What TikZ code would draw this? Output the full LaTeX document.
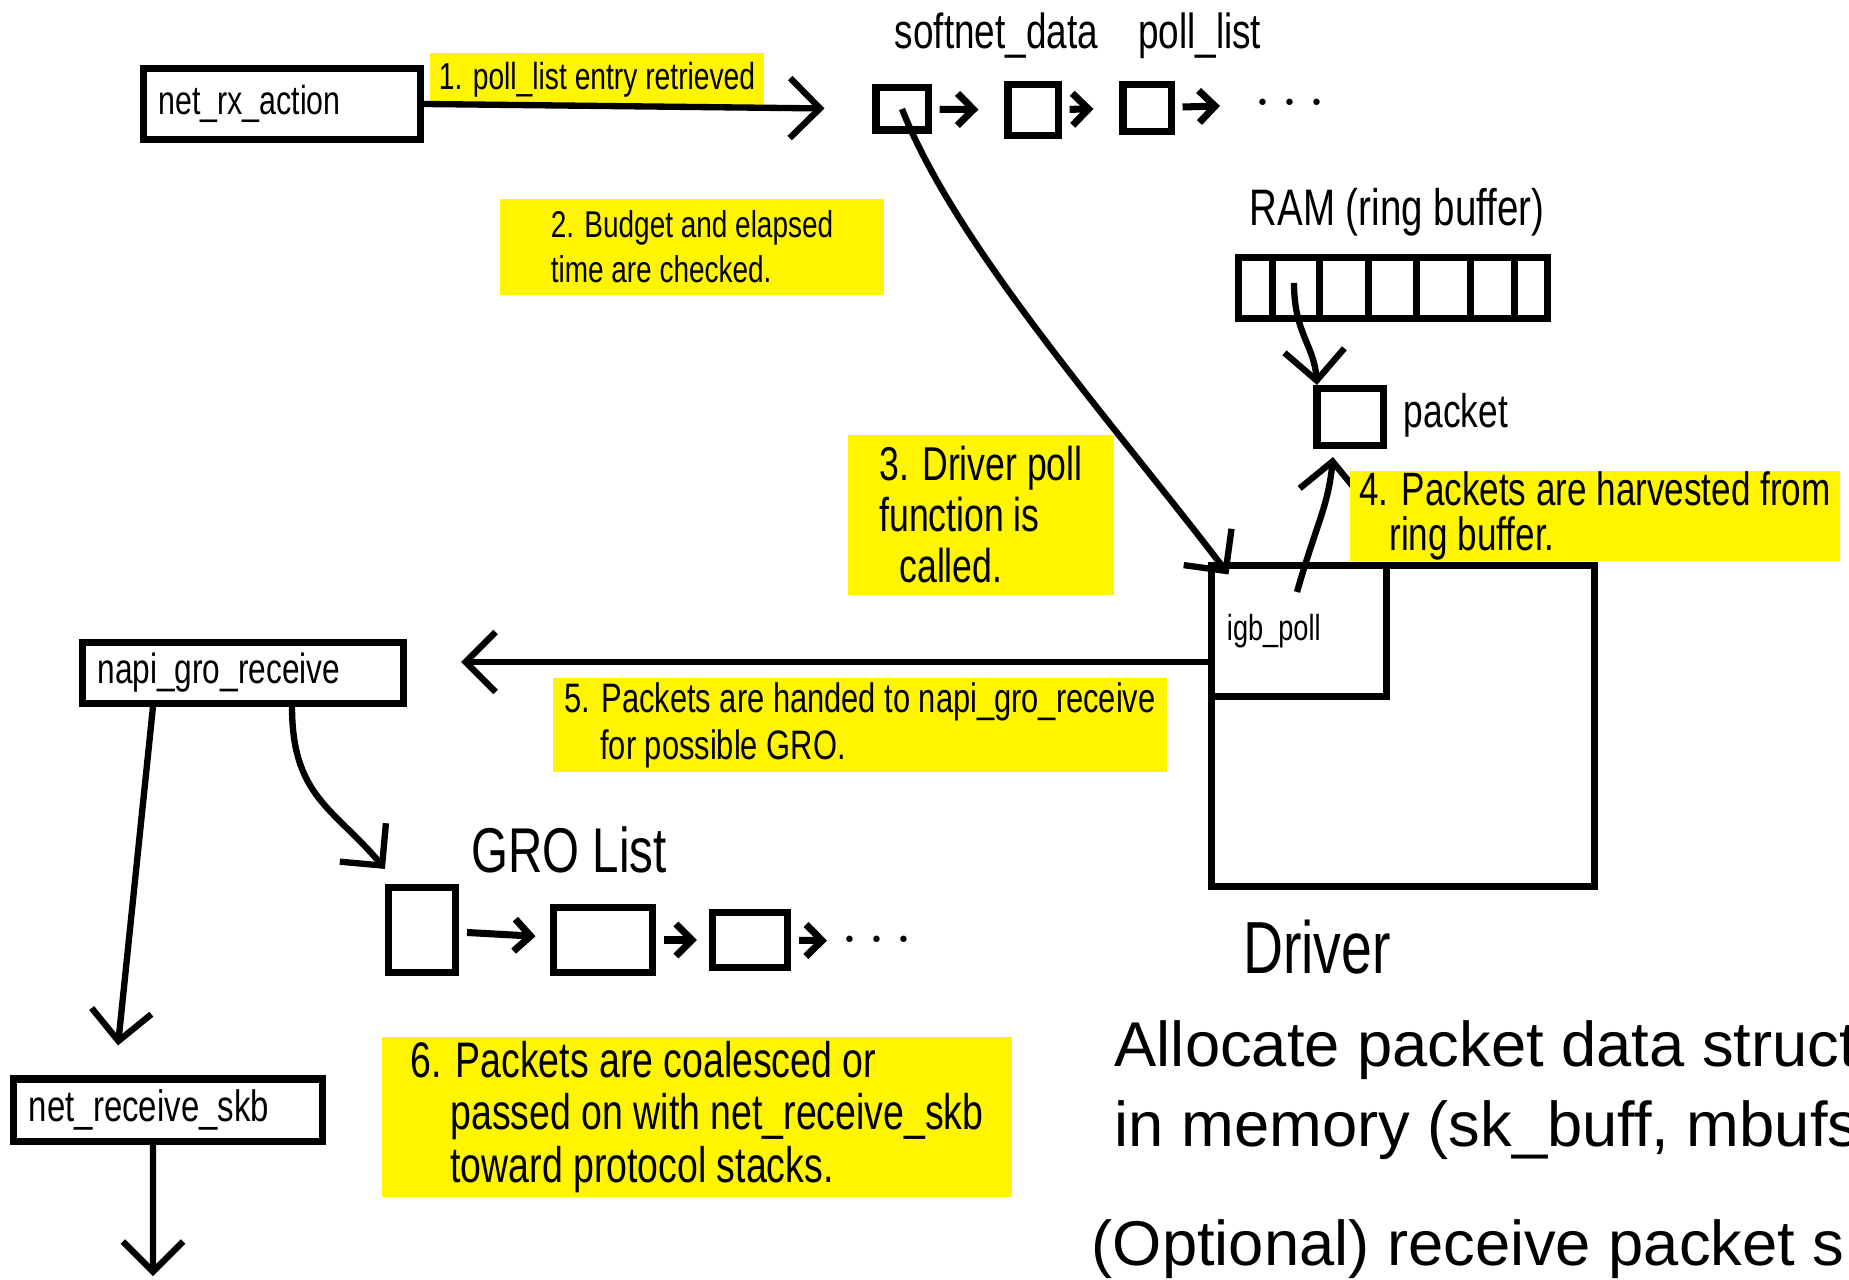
\documentclass[tikz,border=0pt]{standalone}
\usepackage{fontspec}
\usepackage{tikz}
\usetikzlibrary{arrows.meta}
\newfontfamily\hand[FakeStretch=0.75]{Liberation Sans}
\newfontfamily\typed{Liberation Sans}
\definecolor{marker}{RGB}{255,245,0}

\begin{document}
\begin{tikzpicture}[x=0.01cm,y=-0.01cm]
		\tikzset{fnbox/.style={draw,line width=2pt,inner xsep=0.15cm,inner ysep=0pt,align=left,font=\hand\fontsize{12}{14}\selectfont},
			listbox/.style={draw,line width=2pt,inner sep=0pt},
			marked/.style={fill=marker,inner sep=0pt,align=left},
			handlabel/.style={inner sep=0pt,font=\hand\fontsize{#1}{#1}\selectfont},
			dotsnode/.style={inner sep=0pt,anchor=west,font=\fontsize{17}{20}\selectfont},
			flow/.style={line width=1.8pt,-{Straight Barb[length=3mm,width=6mm]}},
			link/.style={line width=2pt,-{Straight Barb[length=1.6mm,width=3.2mm]},shorten <=0.08cm,shorten >=#1},
			typedline/.style={anchor=base west,inner sep=0pt,font=\typed\fontsize{18}{22}\selectfont}};
		\useasboundingbox (0,0) rectangle (1849,1280);

		\node[fnbox,text width=2.47cm,minimum height=0.71cm,font=\hand\fontsize{11.5}{13}\selectfont] (nrx) at (282,104) {net\_rx\_action};
		\node[fnbox,text width=2.91cm,minimum height=0.61cm] (napi) at (243,673) {napi\_gro\_receive};
		\node[fnbox,text width=2.78cm,minimum height=0.62cm,font=\hand\fontsize{12.5}{14}\selectfont] (nrs) at (168,1110) {net\_receive\_skb};

		\node[handlabel=14] (softlbl) at (1078,36) {softnet\_data\hspace{0.4cm}poll\_list};
		\node[listbox,minimum width=0.52cm,minimum height=0.42cm] (s1) at (902,109) {};
		\node[listbox,minimum width=0.50cm,minimum height=0.51cm] (s2) at (1033,110) {};
		\node[listbox,minimum width=0.48cm,minimum height=0.47cm] (s3) at (1147,108) {};
		\node[dotsnode] (sdots) at (1254,104) {$\cdots$};
		\draw[link=0.26cm] (s1) -- (s2);
		\draw[link=0.26cm] (s2) -- (s3);
		\draw[link=0.34cm] (s3) -- (sdots);

		\node[marked,minimum width=3.34cm,minimum height=0.53cm,font=\hand\fontsize{10.7}{12}\selectfont] (note1) at (597,80) {1. poll\_list entry retrieved};
		\draw[flow,shorten >=0.48cm] (nrx.east) -- (s1.west);

		\node[marked,minimum width=3.83cm,minimum height=0.95cm,font=\hand\fontsize{10.6}{12.8}\selectfont] (note2) at (692,247) {2. Budget and elapsed\\time are checked.};

		\node[handlabel=14.6] (ramlbl) at (1397,212) {RAM (ring buffer)};
		\node[listbox,minimum width=3.09cm,minimum height=0.61cm] (ring) at (1393,288) {};
		\foreach \x in {1272,1319,1368,1416,1470,1514}
			\draw[line width=2pt] (\x,257.5) -- (\x,318.5);
		\coordinate (slot) at (1294,283);
		\node[listbox,minimum width=0.66cm,minimum height=0.57cm] (pkt) at (1350,417) {};
		\node[handlabel=13.4,anchor=west] (pktlbl) at (1403,415) {packet};
		\draw[flow] (slot) .. controls +(0,50) and +(-3,-40) .. ([xshift=-0.33cm]pkt.north);

		\node[listbox,minimum width=3.83cm,minimum height=3.21cm] (drv) at (1403,726) {};
		\node[fnbox,text width=1.44cm,minimum height=1.30cm,font=\hand\fontsize{10.3}{12}\selectfont] (igb) at (1299,631) {igb\_poll};
		\node[handlabel=21] (drvlbl) at (1317,947) {Driver};

		\node[marked,minimum width=2.65cm,minimum height=1.59cm,font=\hand\fontsize{13.5}{14.5}\selectfont] (note3) at (981,515) {3. Driver poll\\function is\\\hspace*{0.2cm}called.};
		\draw[flow] (s1.center) .. controls +(55,140) and +(-110,-145) .. ([xshift=0.2cm,yshift=-0.12cm]igb.north west);

		\coordinate (harvest) at (1297,592);
		\draw[flow] (harvest) .. controls +(20,-70) and +(-5,50) .. ([xshift=-0.17cm,yshift=-0.08cm]pkt.south);
		\node[marked,minimum width=4.9cm,minimum height=0.88cm,font=\hand\fontsize{13.3}{13}\selectfont] (note4) at (1595,516) {4. Packets are harvested from\\\hspace*{0.3cm}ring buffer.};

		\coordinate (handoff) at (1212,662);
		\draw[flow,shorten >=0.54cm] (handoff) -- (handoff -| napi.east);
		\node[marked,minimum width=6.13cm,minimum height=0.94cm,font=\hand\fontsize{11.7}{13.4}\selectfont] (note5) at (860,725) {5. Packets are handed to napi\_gro\_receive\\\hspace*{0.36cm}for possible GRO.};

		\node[handlabel=18] (grolbl) at (569,850) {GRO List};
		\node[listbox,minimum width=0.67cm,minimum height=0.85cm] (g1) at (422,930) {};
		\node[listbox,minimum width=0.98cm,minimum height=0.65cm] (g2) at (603,940) {};
		\node[listbox,minimum width=0.75cm,minimum height=0.55cm] (g3) at (750,940) {};
		\node[dotsnode] (gdots) at (841,941) {$\cdots$};
		\draw[link=0.15cm] (g1) -- (g2);
		\draw[link=0.12cm] (g2) -- (g3);
		\draw[link=0.14cm] (g3) -- (gdots);
		\draw[flow] ([xshift=0.49cm]napi.south) .. controls +(0,90) and +(-50,-60) .. ([yshift=0.15cm]g1.north west);
		\draw[flow] ([xshift=-0.9cm]napi.south) -- ([xshift=-0.5cm,yshift=0.3cm]nrs.north);

		\node[marked,minimum width=6.29cm,minimum height=1.59cm,font=\hand\fontsize{14.2}{15}\selectfont] (note6) at (697,1117) {6. Packets are coalesced or\\\hspace*{0.4cm}passed on with net\_receive\_skb\\\hspace*{0.4cm}toward protocol stacks.};
		\coordinate (stack) at (153,1276);
		\draw[flow] ([xshift=-0.15cm]nrs.south) -- (stack);

		\node[typedline] (alloc1) at (1114,1067) {Allocate packet data struct};
		\node[typedline] (alloc2) at (1114,1146) {in memory (sk\_buff, mbufs};
		\node[typedline] (rps) at (1091,1265) {(Optional) receive packet s};
	\end{tikzpicture}
\end{document}
